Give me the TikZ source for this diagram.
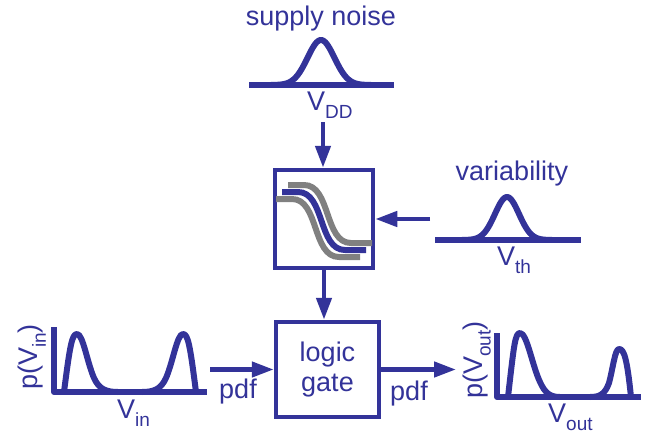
\documentclass[tikz,border=0pt]{standalone}
\usepackage{fontspec}
\setmainfont{Liberation Sans}
\usepackage{tikz}
\usetikzlibrary{arrows.meta, positioning}
\definecolor{dblue}{RGB}{51,51,153}
\definecolor{vgray}{RGB}{128,128,128}
\newcommand{\lowsub}[1]{\raisebox{-8pt}{\fontsize{19}{20}\selectfont #1}}

\begin{document}
\begin{tikzpicture}[x=1pt,y=-1pt]
 \tikzstyle{lbl}=[font=\fontsize{27}{30}\selectfont,text=dblue,inner sep=0pt]
 \tikzstyle{blockbox}=[rectangle,draw=dblue,line width=4.5pt,inner sep=0pt]
 \tikzstyle{arr}=[-{Triangle[length=22pt,width=15pt]},draw=dblue,line width=4.5pt]
 \tikzstyle{pdfline}=[draw=dblue,line width=6pt,line join=round]
 \tikzstyle{vtcurve}=[line width=6pt]
 \useasboundingbox (0,0) rectangle (649,437);
 \node (supply) [lbl,anchor=base] at (321,25) {supply noise};
 \draw[pdfline] (249,85) -- (394,85);
 \draw[pdfline] plot[domain=-50:50,samples=80]
   ({321+\x},{85-45*exp(-((\x/19)^2))});
 \node (vddlbl) [lbl,anchor=base west] at (307,110) {V\lowsub{DD}};
 \coordinate (vddend) at (323,122);
 \node (vt) [blockbox,minimum width=98pt,minimum height=98pt] at (324,219) {};
 \foreach \dx/\dy/\col in {6/-7/vgray,-6/7/vgray,0/0/dblue}
   \draw[vtcurve,draw=\col,shift={(\dx,\dy)}] (282,192) -- (298,192)
     .. controls (325,192) and (318,250) .. (345,250) -- (366,250);
 \draw[arr] (vddend) -- (vddend |- vt.north);
 \node (var) [lbl,anchor=base] at (512,180) {variability};
 \draw[pdfline] (435,240) -- (581,240);
 \draw[pdfline] plot[domain=-45:45,samples=80]
   ({507+\x},{240-43*exp(-((\x/17)^2))});
 \node (vthlbl) [lbl,anchor=base west] at (497,265) {V\lowsub{th}};
 \coordinate (varend) at (430,219);
 \draw[arr] (varend) -- (vt.east);
 \node (gate) [blockbox,minimum width=103pt,minimum height=95pt,align=center,
   font=\fontsize{27}{30}\selectfont,text=dblue] at (327.5,369.5)
   {\raisebox{-3pt}{logic}\\\raisebox{-3pt}{gate}};
 \draw[arr] (vt.south) -- (vt.south |- gate.north);
 \coordinate (inend) at (210,369.5);
 \draw[arr] (inend) -- (gate.west);
 \node (pdfin) [lbl,anchor=base] at (238,398) {pdf};
 \coordinate (outend) at (456,369.5);
 \draw[arr] (gate.east) -- (outend);
 \node (pdfout) [lbl,anchor=base] at (409,400) {pdf};
 \draw[pdfline] (54,327) -- (54,392) -- (207,392);
 \draw[pdfline] (64,392) .. controls (70,345) and (72,334) .. (77,334)
   .. controls (83,334) and (87,362) .. (94,378)
   .. controls (99,389) and (106,392) .. (118,392);
 \draw[pdfline] (142,392) .. controls (154,392) and (161,389) .. (166,378)
   .. controls (173,362) and (177,334) .. (183,334)
   .. controls (188,334) and (190,345) .. (196,392);
 \node (pin) [lbl,rotate=90] at (32,357) {p(V\lowsub{in})};
 \node (vinlbl) [lbl,anchor=base west] at (117,418) {V\lowsub{in}};
 \draw[pdfline] (497,333) -- (497,397) -- (641,397);
 \draw[pdfline] (508,397) .. controls (514,345) and (515,333) .. (520,333)
   .. controls (527,333) and (532,365) .. (540,382)
   .. controls (545,393) and (550,397) .. (560,397);
 \draw[pdfline] (590,397) .. controls (600,397) and (605,394) .. (609,383)
   .. controls (613,368) and (615,349) .. (619,349)
   .. controls (624,349) and (627,358) .. (631,397);
 \node (pout) [lbl,rotate=90] at (477,360) {p(V\lowsub{out})};
 \node (voutlbl) [lbl,anchor=base west] at (548,422) {V\lowsub{out}};
\end{tikzpicture}
\end{document}
